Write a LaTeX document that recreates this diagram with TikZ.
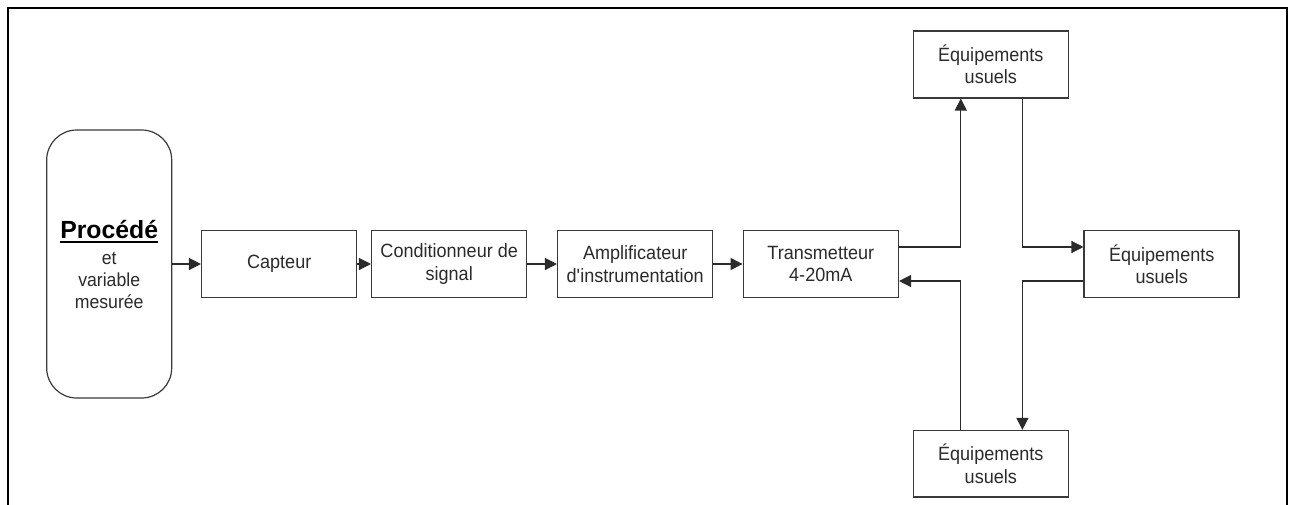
\documentclass[tikz,border=0pt]{standalone}
\usepackage{fontspec}
\setmainfont{Liberation Sans}[FakeStretch=0.94]
\newfontfamily\titlefont{Liberation Sans}
\usetikzlibrary{arrows.meta,calc}
\definecolor{ink}{HTML}{2B2B2B}
\definecolor{edge}{HTML}{3A3A3A}
% bold title with a thick rule under it
\newcommand\thickul[1]{\vtop{\hbox{#1}\kern1.3pt\hrule height 1.1pt}}

\begin{document}
\begin{tikzpicture}[x=0.5pt,y=-0.5pt,
  block/.style={draw=edge, line width=0.75pt, minimum width=77.5pt,
    minimum height=33.3pt, inner sep=0pt, align=center, text=ink,
    font=\fontsize{9.6pt}{11.2pt}\selectfont},
  link/.style={draw=ink, line width=0.65pt,
    -{Triangle[length=6pt,width=6pt]}},
  ]
\useasboundingbox (0,0) rectangle (1290,504);
\fill[white] (0,0) rectangle (1290,504);
\begin{scope}
\clip (0,0) rectangle (1290,504);
% outer frame, open at the bottom
\draw[line width=1pt, black] (8,520) -- (8,8) -- (1287,8) -- (1287,520);
\end{scope}

% process block
\node[draw=edge, line width=0.6pt, rounded corners=15pt, minimum width=62.5pt,
  minimum height=134pt, inner sep=0pt] (proc) at (109.2,264) {};
\node[anchor=base, inner sep=0pt, text=black,
  font=\titlefont\fontsize{12.4pt}{14pt}\selectfont\bfseries] (proctitle) at (109.2,238.3)
  {\thickul{Procédé}};
\node[align=center, inner sep=0pt, text=ink,
  font=\fontsize{9.4pt}{10.85pt}\selectfont] (procvar) at (109.2,280.5)
  {et\\variable\\mesurée};

% measuring chain
\node[block] (capt)  at (279.2,264) {Capteur};
\node[block] (cond)  at (449.2,264) {Conditionneur de\\signal};
\node[block] (ampl)  at (635.2,264) {Amplificateur\\d\textquotesingle instrumentation};
\node[block] (trans) at (820.8,264) {Transmetteur\\4-20mA};

% loop of equipment
\node[block] (eqtop)   at (990.8,64.5)  {Équipements\\usuels};
\node[block] (eqright) at (1161.7,264)  {Équipements\\usuels};
\node[block] (eqbot)   at (990.8,463.9) {Équipements\\usuels};

\draw[link] (proc) -- (capt);
\draw[link] (capt) -- (cond);
\draw[link] (cond) -- (ampl);
\draw[link] (ampl) -- (trans);

\draw[link] ([yshift=8.5pt]trans.east) -| ([xshift=-15pt]eqtop.south);
\draw[link] ([xshift=15.8pt]eqtop.south) |- ([yshift=8.5pt]eqright.west);
\draw[link] ([yshift=-8.5pt]eqright.west) -| ([xshift=15.8pt]eqbot.north);
\draw[link] ([xshift=-15pt]eqbot.north) |- ([yshift=-8.5pt]trans.east);
\end{tikzpicture}
\end{document}
